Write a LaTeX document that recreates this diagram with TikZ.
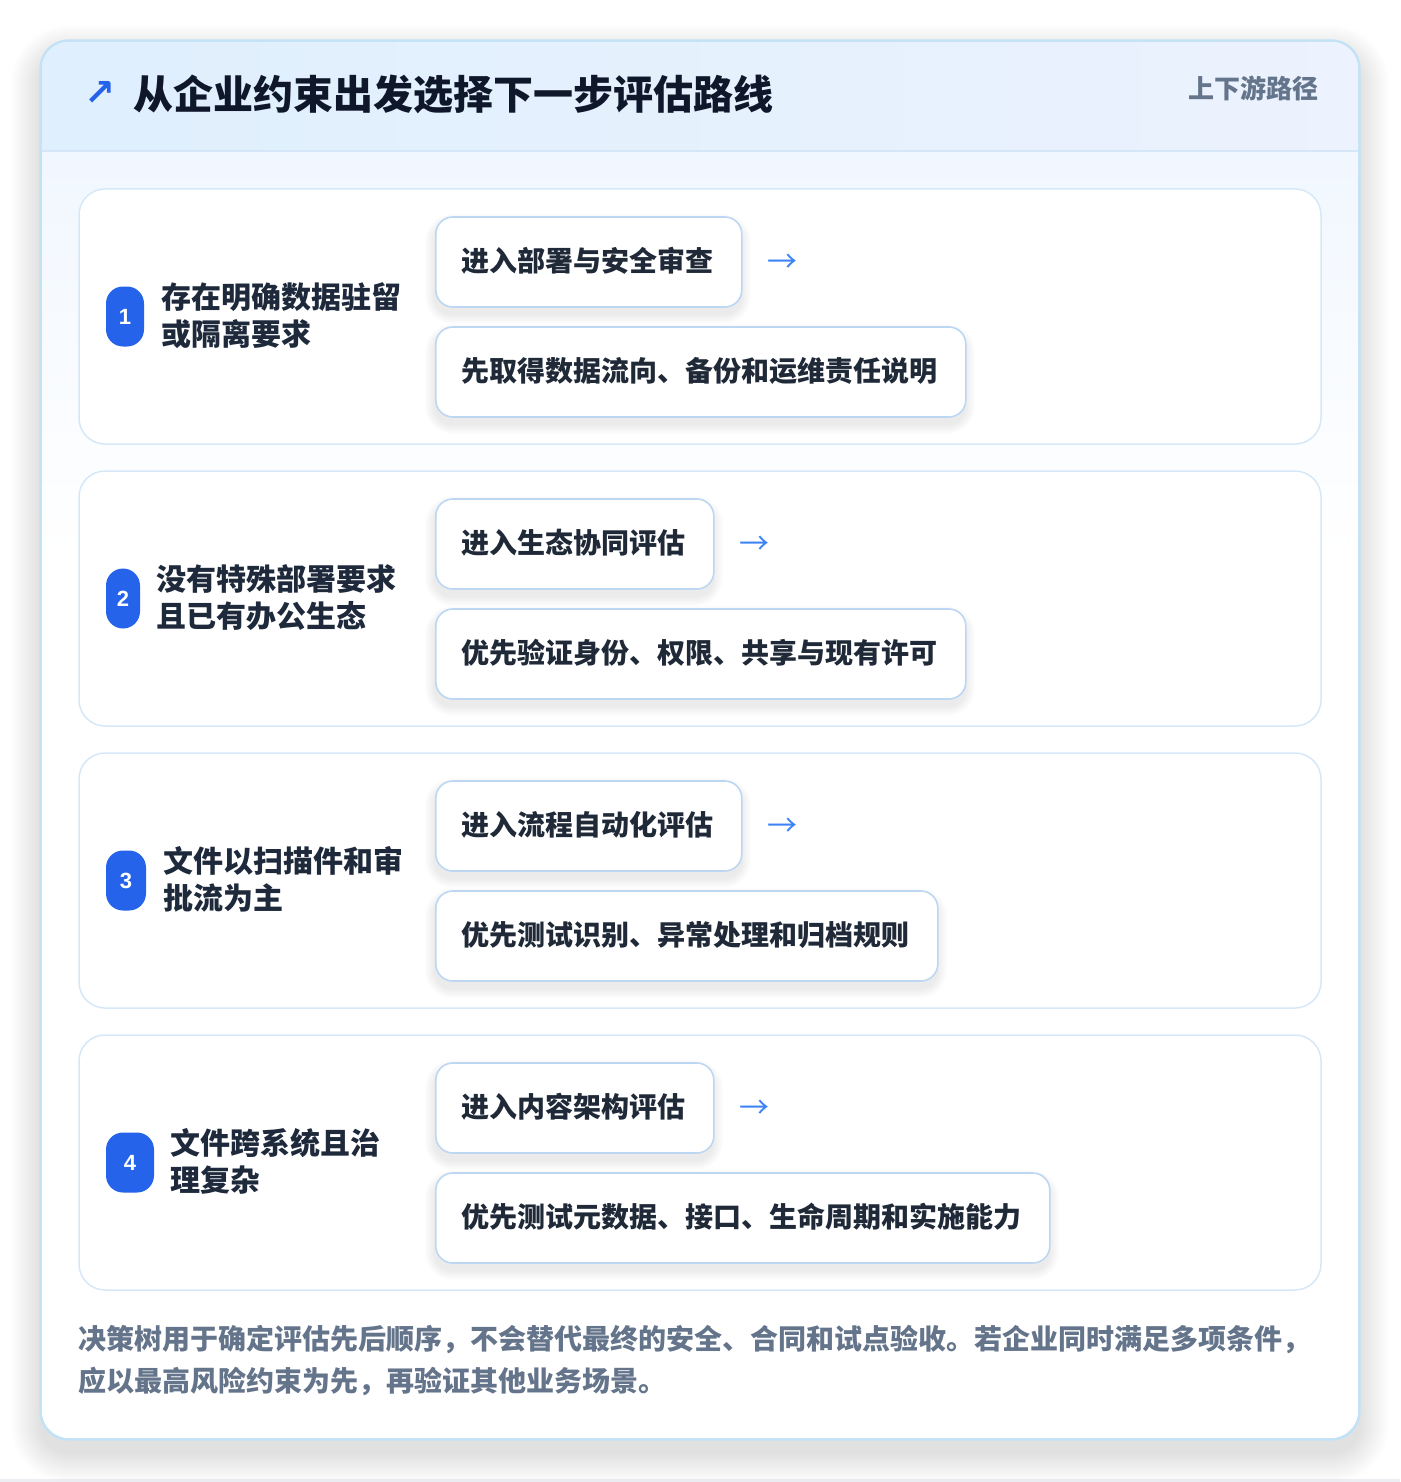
\documentclass[tikz,border=0pt]{standalone}
\usepackage{fontspec}
\setmainfont{Noto Sans CJK SC}
\newfontfamily\symf{DejaVu Sans}
\newfontfamily\numf{Liberation Sans}
\usetikzlibrary{calc}
\definecolor{pagebg}{HTML}{EDEEF3}
\definecolor{cardline}{HTML}{C3E2F6}
\definecolor{hdrL}{HTML}{DFEFFD}
\definecolor{hdrR}{HTML}{ECF2FE}
\definecolor{hdrline}{HTML}{D5E6F8}
\definecolor{bodytop}{HTML}{F1F7FF}
\definecolor{rowline}{HTML}{D6E8F8}
\definecolor{optline}{HTML}{BDD7F3}
\definecolor{badgeblue}{HTML}{2563EB}
\definecolor{arrowblue}{HTML}{3B82F6}
\definecolor{titlecol}{HTML}{0F172A}
\definecolor{rowtext}{HTML}{1E293B}
\definecolor{opttext}{HTML}{1F2937}
\definecolor{graytext}{HTML}{64748B}
\tikzset{
  cardbox/.style={draw=cardline,line width=1.6pt,rounded corners=28pt,fill=white,inner sep=0pt},
  rowcard/.style={draw=rowline,line width=1.5pt,rounded corners=26pt,fill=white,inner sep=0pt,minimum width=1242pt,minimum height=255pt},
  optbox/.style={draw=optline,line width=1.6pt,rounded corners=17pt,fill=white,inner sep=0pt,minimum height=90pt,anchor=west},
  opttxt/.style={anchor=west,inner sep=0pt,text=opttext,font=\fontsize{28}{34}\selectfont\bfseries},
  badge/.style={fill=badgeblue,rounded corners=17pt,inner sep=0pt,minimum height=60pt,text=white,font=\numf\fontsize{22}{26}\selectfont\bfseries},
  rowlabel/.style={anchor=west,inner sep=0pt,align=left,text=rowtext,font=\fontsize{30}{37}\selectfont\bfseries},
  arrowtxt/.style={anchor=center,inner sep=0pt,text=arrowblue,font=\fontsize{30}{34}\selectfont},
  foot/.style={anchor=west,inner sep=0pt,text=graytext,font=\fontsize{28}{34}\selectfont\bfseries},
}
\begin{document}
\begin{tikzpicture}[x=1pt,y=-1pt]
\useasboundingbox (0,0) rectangle (1400,1482);
\fill[pagebg] (0,0) rectangle (1400,1482);
\fill[white] (0,0) rectangle (1400,1479);
% outer soft shadow
\foreach \i in {1,...,30}{
  \pgfmathsetmacro\r{28+\i}
  \fill[black,opacity=0.0035,rounded corners=\r pt] (41-\i,41-\i+14) rectangle (1359+\i,1439+\i+14);
}
\node[cardbox,minimum width=1318pt,minimum height=1398pt] (card) at (700,740) {};
% body gradient under header
\shade[top color=bodytop,bottom color=white] (42,152) rectangle (1358,560);
% header band
\shade[left color=hdrL,right color=hdrR] (41.8,151) [rounded corners=27pt] -- (41.8,41.8) -- (1358.2,41.8) [sharp corners] -- (1358.2,151) -- cycle;
\draw[hdrline,line width=1.2pt] (42,151) -- (1358,151);
\draw[cardline,line width=1.6pt,rounded corners=28pt] (card.north west) rectangle (card.south east);
% title
\node[anchor=center,inner sep=0pt,text=badgeblue,font=\symf\fontsize{37}{40}\selectfont\bfseries] (ticon) at (99.5,93) {↗};
\node[anchor=west,inner sep=0pt,text=titlecol,font=\fontsize{40}{46}\selectfont\bfseries] (title) at (133,94) {从企业约束出发选择下一步评估路线};
\node[anchor=east,inner sep=0pt,text=graytext,font=\fontsize{26}{30}\selectfont\bfseries] (sub) at (1319,88) {上下游路径};
% rows
\foreach \n/\off/\bw/\lx/\la/\lb/\ta/\tw/\tb/\bwid/\ax in {
  1/0/38/162/存在明确数据驻留/或隔离要求/进入部署与安全审查/306/先取得数据流向、备份和运维责任说明/530/782,
  2/282/34/157/没有特殊部署要求/且已有办公生态/进入生态协同评估/278/优先验证身份、权限、共享与现有许可/530/754,
  3/564/40/164/文件以扫描件和审/批流为主/进入流程自动化评估/306/优先测试识别、异常处理和归档规则/502/782,
  4/846/48/171/文件跨系统且治/理复杂/进入内容架构评估/278/优先测试元数据、接口、生命周期和实施能力/614/754}{
  \node[rowcard] (row\n) at (700,316.5+\off) {};
  \node[badge,minimum width=\bw pt] (badge\n) at (106+\bw/2,316.5+\off) {\n};
  \node[rowlabel] (lab\n) at (\lx-1,315.5+\off) {\la\\\lb};
  % option shadows
  \foreach \j in {1,...,10}{
    \pgfmathsetmacro\rr{17+\j}
    \fill[black,opacity=0.006,rounded corners=\rr pt] (435-\j,217+\off-\j+7) rectangle (435+\tw+\j,307+\off+\j+7);
    \fill[black,opacity=0.006,rounded corners=\rr pt] (435-\j,327+\off-\j+7) rectangle (435+\bwid+\j,417+\off+\j+7);
  }
  \node[optbox,minimum width=\tw pt] (top\n) at (435,262+\off) {};
  \node[opttxt] (toptxt\n) at (461,261+\off) {\ta};
  \node[optbox,minimum width=\bwid pt] (bot\n) at (435,372+\off) {};
  \node[opttxt] (bottxt\n) at (461,371+\off) {\tb};
  \node[arrowtxt] (arr\n) at (\ax,263+\off) {→};
}
% footer
\node[foot] (foot1) at (78,1339) {决策树用于确定评估先后顺序，不会替代最终的安全、合同和试点验收。若企业同时满足多项条件，};
\node[foot] (foot2) at (78,1381) {应以最高风险约束为先，再验证其他业务场景。};
\end{tikzpicture}
\end{document}
